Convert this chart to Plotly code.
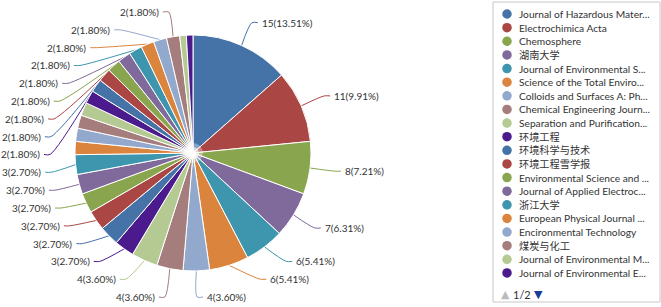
import math
import plotly.graph_objects as go

# ---- data ----
journals = [
    "Journal of Hazardous Mater...", "Electrochimica Acta", "Chemosphere", "湖南大学",
    "Journal of Environmental S...", "Science of the Total Enviro...", "Colloids and Surfaces A: Ph...",
    "Chemical Engineering Journ...", "Separation and Purification...", "环境工程",
    "环境科学与技术", "环境工程雪学报", "Environmental Science and ...", "Journal of Applied Electroc...",
    "浙江大学", "European Physical Journal ...", "Encironmental Technology", "煤炭与化工",
    "Journal of Environmental M...", "Journal of Environmental E...",
    "Water Research", "Applied Catalysis B", "Desalination", "Water Science and Technology",
    "中国环境科学", "环境科学", "Bioresource Technology", "Journal of Cleaner Production",
    "工业水处理", "Chemical Engineering Science",
]
counts = [15, 11, 8, 7, 6, 6, 4, 4, 4, 3, 3, 3, 3, 3, 3,
          2, 2, 2, 2, 2, 2, 2, 2, 2, 2, 2, 2, 2, 1, 1]
label_shown = [True] * 15 + [False] * 4 + [True] * 9 + [False] * 2

palette = ["#4572A7", "#AA4643", "#89A54E", "#80699B", "#3D96AE",
           "#DB843D", "#92A8CD", "#A47D7C", "#B5CA92", "#4B1A8C"]
colors = [palette[i % len(palette)] for i in range(len(counts))]

legend_n = 20
pager_text = "1/2"
FONT = "Lato, 'Noto Sans', 'Noto Sans CJK SC', sans-serif"

# ---- layout constants (pixels) ----
W, H = 661, 307
cx, cy, r = 193, 153, 118
len1 = 25
R = r + len1
line_h = 17.8
y_lo, y_hi = 12, 297

total = sum(counts)

fig = go.Figure()
fig.add_trace(go.Pie(
    labels=journals, values=counts, sort=False, direction="clockwise", rotation=0,
    marker=dict(colors=colors, line=dict(color="white", width=1)),
    textinfo="none",
    domain=dict(x=[(cx - r) / W, (cx + r) / W], y=[(H - cy - r) / H, (H - cy + r) / H]),
    showlegend=False, hoverinfo="label+value+percent",
))

# ---- label layout derived from the data (echarts-like) ----
items = []
cum = 0
for i, c in enumerate(counts):
    mid = (cum + c / 2) / total * 2 * math.pi
    cum += c
    if not label_shown[i]:
        continue
    s, co = math.sin(mid), math.cos(mid)
    items.append(dict(i=i, ex=cx + r * s, ey=cy - r * co, nx=cx + R * s, ny=cy - R * co,
                      side="right" if s >= 0 else "left",
                      text=f"{c}({c / total * 100:.2f}%)"))

for side in ("left", "right"):
    grp = sorted([it for it in items if it["side"] == side], key=lambda d: d["ny"])
    ys = [max(it["ny"], y_lo) for it in grp]
    for k in range(1, len(ys)):
        ys[k] = max(ys[k], ys[k - 1] + line_h)
    if ys and ys[-1] > y_hi:
        ys[-1] = y_hi
        for k in range(len(ys) - 2, -1, -1):
            ys[k] = min(ys[k], ys[k + 1] - line_h)
    for it, y in zip(grp, ys):
        it["y"] = y

annotations = []
for it in items:
    dy = it["y"] - cy
    sign = 1 if it["side"] == "right" else -1
    if abs(dy) < R and abs(it["y"] - it["ny"]) > 0.01:
        xl = cx + sign * math.sqrt(R * R - dy * dy)
    else:
        xl = it["nx"]
    xend = xl + sign * 6
    fig.add_trace(go.Scatter(
        x=[it["ex"], xl, xend], y=[it["ey"], it["y"], it["y"]], mode="lines",
        line=dict(color=colors[it["i"]], width=1, shape="spline", smoothing=0.8),
        hoverinfo="skip", showlegend=False, xaxis="x", yaxis="y",
    ))
    annotations.append(dict(
        x=xend + sign * 2, y=it["y"], xref="x", yref="y", text=it["text"], showarrow=False,
        xanchor="left" if sign > 0 else "right", yanchor="middle",
        font=dict(family=FONT, size=10, color="#333333"),
    ))

# ---- custom legend (page 1 of 2) ----
lg_x, lg_y0, lg_dy = 507, 14, 13.63
fig.add_trace(go.Scatter(
    x=[lg_x] * legend_n, y=[lg_y0 + lg_dy * k for k in range(legend_n)], mode="markers",
    marker=dict(color=colors[:legend_n], size=9.5), hoverinfo="skip", showlegend=False,
))
for k in range(legend_n):
    annotations.append(dict(
        x=lg_x + 10, y=lg_y0 + lg_dy * k, xref="x", yref="y", text=journals[k], showarrow=False,
        xanchor="left", yanchor="middle", font=dict(family=FONT, size=10.2, color="#333333"),
    ))
annotations += [
    dict(x=505, y=294, xref="x", yref="y", text="▲", showarrow=False, xanchor="center", yanchor="middle",
         font=dict(family="DejaVu Sans", size=11, color="#BBBBBB")),
    dict(x=522, y=294, xref="x", yref="y", text=pager_text, showarrow=False, xanchor="center",
         yanchor="middle", font=dict(family=FONT, size=11, color="#333333")),
    dict(x=538, y=294, xref="x", yref="y", text="▼", showarrow=False, xanchor="center", yanchor="middle",
         font=dict(family="DejaVu Sans", size=11, color="#1A3A9C")),
]

shapes = [
    dict(type="rect", xref="x", yref="y", x0=493, x1=660, y0=2, y1=302,
         line=dict(color="#C8C8C8", width=1), fillcolor="rgba(0,0,0,0)", layer="below"),
    dict(type="circle", xref="x", yref="y", x0=cx - 10, x1=cx + 10, y0=cy - 10, y1=cy + 10,
         line=dict(width=0), fillcolor="rgba(255,255,255,0.35)", layer="above"),
    dict(type="circle", xref="x", yref="y", x0=cx - 6, x1=cx + 6, y0=cy - 6, y1=cy + 6,
         line=dict(width=0), fillcolor="rgba(255,255,255,0.6)", layer="above"),
    dict(type="circle", xref="x", yref="y", x0=cx - 3, x1=cx + 3, y0=cy - 3, y1=cy + 3,
         line=dict(width=0), fillcolor="rgba(255,255,255,0.9)", layer="above"),
]

fig.update_layout(
    width=W, height=H, margin=dict(l=0, r=0, t=0, b=0, pad=0, autoexpand=False),
    paper_bgcolor="white", plot_bgcolor="rgba(0,0,0,0)",
    xaxis=dict(domain=[0, 1], range=[0, W], visible=False, fixedrange=True),
    yaxis=dict(domain=[0, 1], range=[H, 0], visible=False, fixedrange=True),
    annotations=annotations, shapes=shapes, showlegend=False,
)

fig.write_html("out.html", config={"displayModeBar": False}, post_script=(
    "document.body.style.margin='0px';document.body.style.padding='0px';"
    "document.documentElement.style.overflow='hidden';"
))
